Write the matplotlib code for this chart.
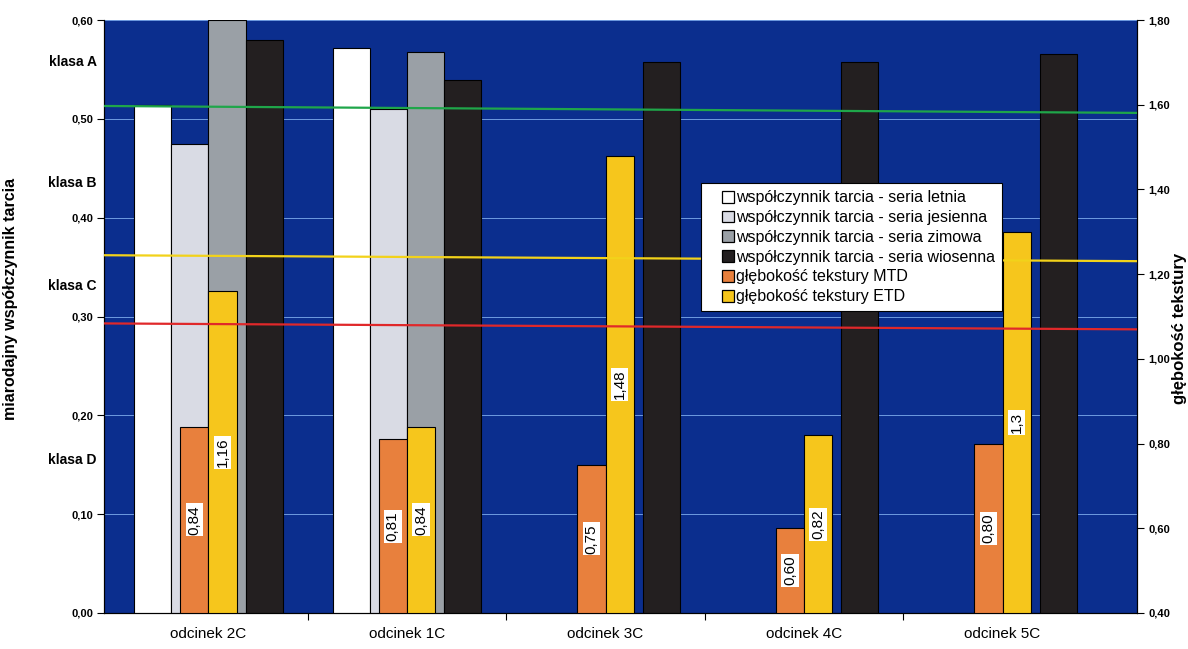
import numpy as np
import matplotlib.pyplot as plt
from matplotlib.patches import Patch, Rectangle
from matplotlib.legend_handler import HandlerPatch

plt.rcParams['font.family'] = ['Liberation Sans', 'DejaVu Sans']

# sections of the road
odcinki = ['odcinek 2C', 'odcinek 1C', 'odcinek 3C', 'odcinek 4C', 'odcinek 5C']

# friction coefficient per measurement series (left axis)
letnia = [0.514, 0.572, 0, 0, 0]
jesienna = [0.475, 0.510, 0, 0, 0]
zimowa = [0.600, 0.568, 0, 0, 0]
wiosenna = [0.580, 0.539, 0.558, 0.557, 0.566]

# texture depth (right axis)
mtd = [0.84, 0.81, 0.75, 0.60, 0.80]
etd = [1.16, 0.84, 1.48, 0.82, 1.30]
mtd_labels = ['0,84', '0,81', '0,75', '0,60', '0,80']
etd_labels = ['1,16', '0,84', '1,48', '0,82', '1,3']

# class limit lines (left axis, start/end value)
granica_zielona = [0.513, 0.506]
granica_zolta = [0.362, 0.356]
granica_czerwona = [0.293, 0.287]

klasy = ['klasa A', 'klasa B', 'klasa C', 'klasa D']
klasy_y = [0.558, 0.435, 0.331, 0.155]

kolory_tarcie = ['#ffffff', '#d9dbe4', '#9aa0a6', '#231f20']
kolor_mtd = '#e8803d'
kolor_etd = '#f6c61c'
tlo = '#0b2e8e'

fig = plt.figure(figsize=(11.88, 6.49), dpi=100)
ax = fig.add_axes([104 / 1188, 1 - 613 / 649, 1033 / 1188, 593 / 649])
ax.set_facecolor(tlo)
ax2 = ax.twinx()
ax2.patch.set_visible(False)

x = np.arange(len(odcinki))
w1 = 0.187
serie = [letnia, jesienna, zimowa, wiosenna]
for i, (vals, kol) in enumerate(zip(serie, kolory_tarcie)):
    ax.bar(x + (i - 1.5) * w1, vals, w1, color=kol, edgecolor='black',
           linewidth=0.8, zorder=3)

w2 = 0.142
b_mtd = ax2.bar(x - w2 / 2, np.array(mtd) - 0.4, w2, bottom=0.4, color=kolor_mtd,
                edgecolor='black', linewidth=0.8, zorder=3)
b_etd = ax2.bar(x + w2 / 2, np.array(etd) - 0.4, w2, bottom=0.4, color=kolor_etd,
                edgecolor='black', linewidth=0.8, zorder=3)

for bars, vals, labs in [(b_mtd, mtd, mtd_labels), (b_etd, etd, etd_labels)]:
    for b, v, t in zip(bars, vals, labs):
        ax2.text(b.get_x() + b.get_width() / 2, (0.4 + v) / 2, t, rotation=90,
                 ha='center', va='center', fontsize=11, zorder=5,
                 bbox=dict(facecolor='white', edgecolor='none', pad=1.2))

# class limit lines on top of the bars
xl = (-0.526, 4.677)
for vals, kol in [(granica_zielona, '#1fa64a'), (granica_zolta, '#f2d21a'),
                  (granica_czerwona, '#e0282a')]:
    ax2.plot(xl, vals, color=kol, linewidth=1.6, transform=ax.transData, zorder=6)

ax.set_xlim(*xl)
ax.set_ylim(0, 0.6)
ax2.set_ylim(0.4, 1.8)

ax.set_yticks(np.arange(0, 0.61, 0.1))
ax.set_yticklabels([f'{v:.2f}'.replace('.', ',') for v in np.arange(0, 0.61, 0.1)],
                   fontsize=8, fontweight='bold')
ax2.set_yticks(np.arange(0.4, 1.81, 0.2))
ax2.set_yticklabels([f'{v:.2f}'.replace('.', ',') for v in np.arange(0.4, 1.81, 0.2)],
                    fontsize=8, fontweight='bold')
ax.grid(axis='y', color='#6f9be0', linewidth=0.7, zorder=1)
ax.set_axisbelow(True)

ax.set_xticks(x)
ax.set_xticklabels(odcinki, fontsize=11)
ax.tick_params(axis='x', length=0, pad=10)
ax.set_xticks([0.5, 1.5, 2.5, 3.5], minor=True)
ax.tick_params(axis='x', which='minor', length=5, width=0.8)
ax.tick_params(axis='y', length=5, width=0.8, pad=3)
ax2.tick_params(axis='y', length=5, width=0.8, pad=3)

for a in (ax, ax2):
    a.spines['top'].set_visible(False)
    a.spines['left'].set_linewidth(0.8)
    a.spines['right'].set_linewidth(0.8)
    a.spines['bottom'].set_linewidth(0.8)

ax.set_ylabel('miarodajny współczynnik tarcia', fontsize=11.5, fontweight='bold')
ax.yaxis.set_label_coords(-0.083, 0.53)
ax2.set_ylabel('głębokość tekstury', fontsize=12, fontweight='bold')
ax2.yaxis.label.set_va('center')
ax2.yaxis.set_label_coords(1.041, 0.48)

for t, yv in zip(klasy, klasy_y):
    ax.text(-0.007, yv, t, transform=ax.get_yaxis_transform(), ha='right', va='center',
            fontsize=10, fontweight='bold')


# small square legend keys placed at the right end of the handle box
def kwadrat(legend, orig_handle, xdescent, ydescent, width, height, fontsize):
    s = height * 1.05
    return Rectangle((width - s - xdescent, -ydescent + (height - s) / 2), s, s)


nazwy = ['współczynnik tarcia - seria letnia', 'współczynnik tarcia - seria jesienna',
         'współczynnik tarcia - seria zimowa', 'współczynnik tarcia - seria wiosenna',
         'głębokość tekstury MTD', 'głębokość tekstury ETD']
uchwyty = [Patch(facecolor=k, edgecolor='black', linewidth=0.9)
           for k in kolory_tarcie + [kolor_mtd, kolor_etd]]
leg = ax2.legend(uchwyty, nazwy, loc='upper left', bbox_to_anchor=(0.578, 0.725),
                 borderaxespad=0, fontsize=11.5, handlelength=1.6, handleheight=0.7,
                 handletextpad=0.15, labelspacing=0.3, borderpad=0.45, fancybox=False,
                 framealpha=1, edgecolor='black',
                 handler_map={Patch: HandlerPatch(patch_func=kwadrat)})
leg.get_frame().set_linewidth(0.8)
leg.set_zorder(10)

fig.savefig('out.png', dpi=100, facecolor='white')
